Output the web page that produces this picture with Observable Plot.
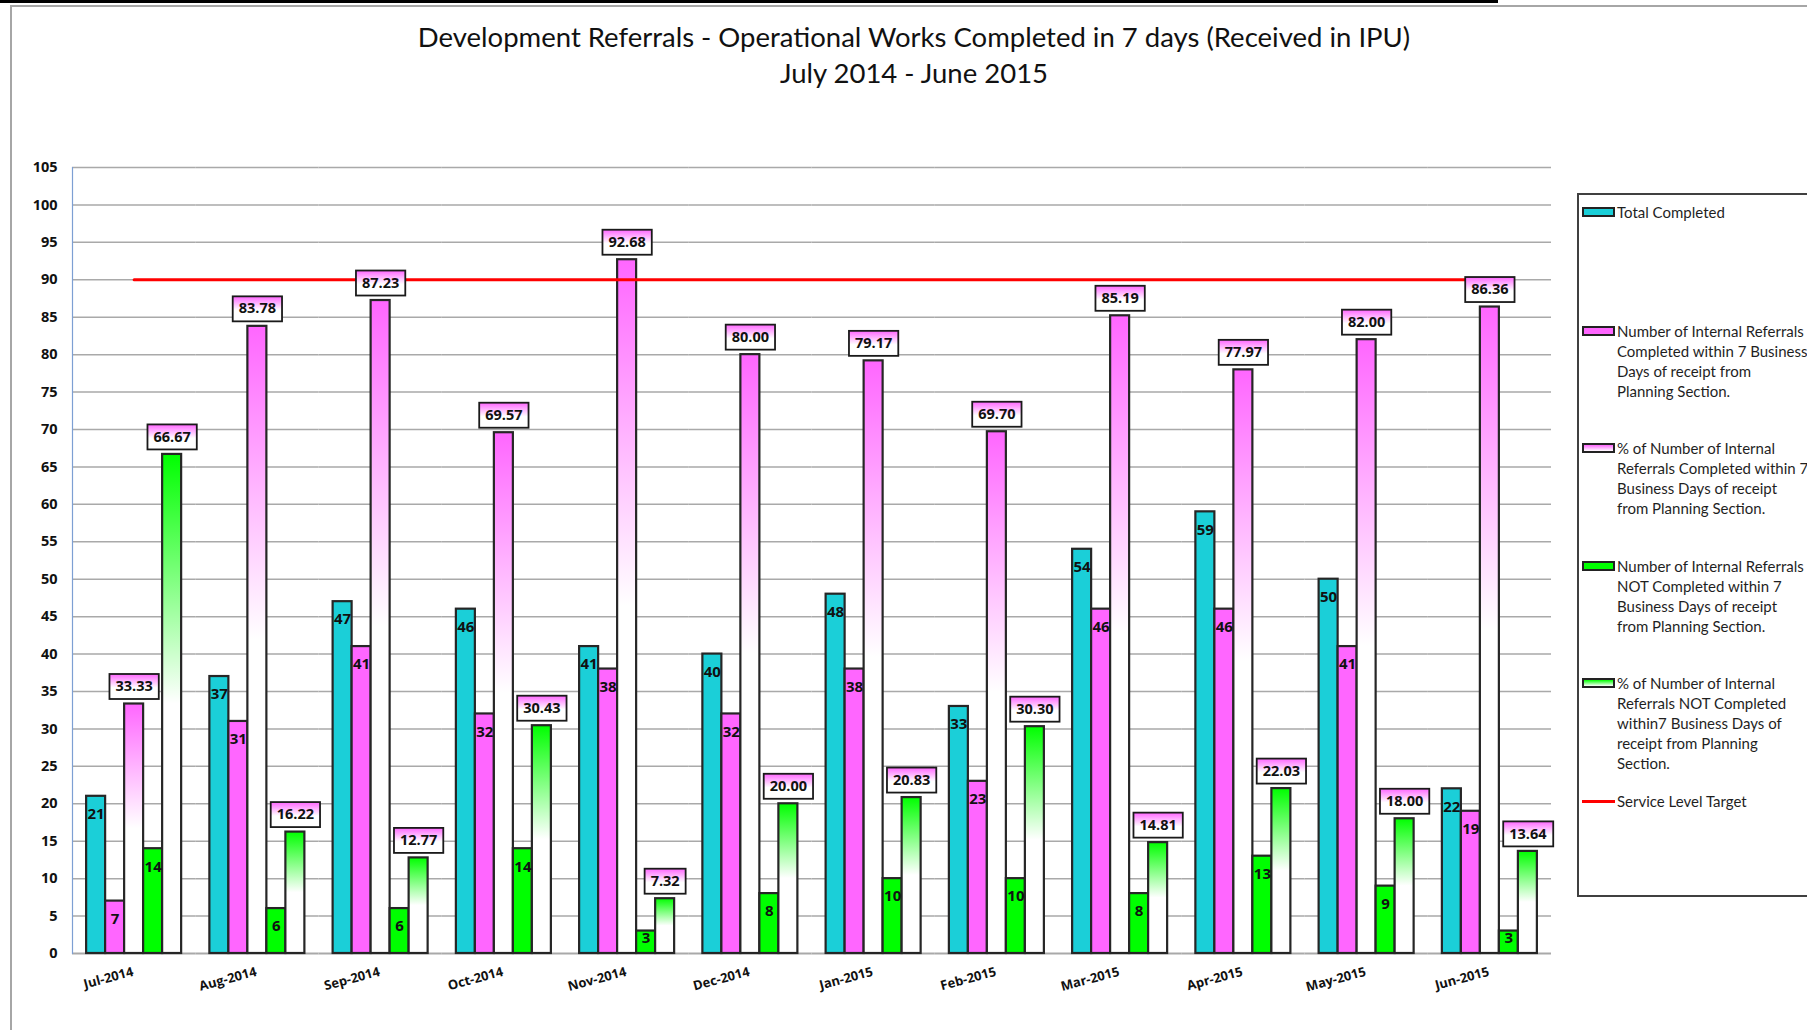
<!DOCTYPE html>
<html>
<head>
<meta charset="utf-8">
<script src="https://cdn.jsdelivr.net/npm/d3@7"></script>
<script src="https://cdn.jsdelivr.net/npm/@observablehq/plot@0.6"></script>
<style>
html, body { margin: 0; padding: 0; background: #fff; overflow: hidden; }
#root { position: relative; width: 1807px; height: 1030px; overflow: hidden; background: #fff; }
.layer { position: absolute; left: 0; top: 0; }
#topband { position: absolute; left: 0; top: 0; width: 1498px; height: 3px; background: #000; }
#border { position: absolute; left: 10px; top: 5px; width: 1820px; height: 1040px; border-left: 2px solid #a6a6a6; border-top: 2px solid #a6a6a6; }
#title { position: absolute; left: 214px; width: 1400px; top: 19px; text-align: center; font-family: Lato, sans-serif; font-size: 27.5px; line-height: 36px; color: #111; }
#legend { position: absolute; left: 1577px; top: 193px; width: 300px; height: 704px; border: 2px solid #404040; box-sizing: border-box; }
.lg-item { position: absolute; left: 0; font-family: Lato, sans-serif; font-size: 15px; line-height: 20px; color: #1f1f1f; white-space: nowrap; }
.lg-sw { position: absolute; width: 29px; height: 6px; border: 2px solid #222; }
.lg-line { position: absolute; width: 33px; height: 3px; background: #ff0000; }
.lg-text { position: absolute; }
</style>
</head>
<body>
<div id="root">
  <div id="topband"></div>
  <div id="border"></div>
  <div id="title"></div>
  <div id="chartA" class="layer"></div>
  <div id="chartB" class="layer"></div>
  <div id="chartC" class="layer"></div>
  <div id="legend"></div>
</div>
<script>
// ---------------- DATA ----------------
const titleLines = [
  "Development Referrals - Operational Works Completed in 7 days (Received in IPU)",
  "July 2014 - June 2015"
];
const months = ["Jul-2014","Aug-2014","Sep-2014","Oct-2014","Nov-2014","Dec-2014",
                "Jan-2015","Feb-2015","Mar-2015","Apr-2015","May-2015","Jun-2015"];
const totalCompleted   = [21, 37, 47, 46, 41, 40, 48, 33, 54, 59, 50, 22];
const completedWithin7 = [7, 31, 41, 32, 38, 32, 38, 23, 46, 46, 41, 19];
const pctCompleted     = [33.33, 83.78, 87.23, 69.57, 92.68, 80.00, 79.17, 69.70, 85.19, 77.97, 82.00, 86.36];
const notCompleted     = [14, 6, 6, 14, 3, 8, 10, 10, 8, 13, 9, 3];
const pctNotCompleted  = [66.67, 16.22, 12.77, 30.43, 7.32, 20.00, 20.83, 30.30, 14.81, 22.03, 18.00, 13.64];
const serviceTarget    = [90, 90, 90, 90, 90, 90, 90, 90, 90, 90, 90, 90];
const yTicks = [0,5,10,15,20,25,30,35,40,45,50,55,60,65,70,75,80,85,90,95,100,105];
const seriesKeys = ["total", "completed", "pctCompleted", "notCompleted", "pctNot"];
const legendLabels = [
  ["Total Completed"],
  ["Number of Internal Referrals", "Completed within 7 Business", "Days of receipt from", "Planning Section."],
  ["% of Number of Internal", "Referrals Completed within 7", "Business Days of receipt", "from Planning Section."],
  ["Number of Internal Referrals", "NOT Completed within 7", "Business Days of receipt", "from Planning Section."],
  ["% of Number of Internal", "Referrals NOT Completed", "within7 Business Days of", "receipt from Planning", "Section."],
  ["Service Level Target"]
];

// ---------------- STYLES ----------------
const CYAN = "#1BCFD8", PINK = "#FF66FF", GREEN = "#00FF00";
const seriesFill = [CYAN, PINK, "url(#gPink)", GREEN, "url(#gGreen)"];
const seriesValues = [totalCompleted, completedWithin7, pctCompleted, notCompleted, pctNotCompleted];
const isPct = [false, false, true, false, true];

const rows = months.flatMap((m, i) => seriesKeys.map((s, j) => ({month: m, series: s, value: seriesValues[j][i], pct: isPct[j]})));
const countRows = rows.filter(r => !r.pct);
const pctRows = rows.filter(r => r.pct);

const FONT = "'Open Sans', sans-serif";
const W = 1560, H = 1030;
const common = {
  width: W, height: H,
  marginLeft: 72, marginRight: 9, marginTop: 167, marginBottom: 77,
  y: {domain: [0, 105], axis: null, label: null},
  style: {background: "transparent", fontFamily: FONT, overflow: "visible"}
};
const facetScales = {
  fx: {domain: months, padding: 0, round: false, axis: null, label: null},
  x: {type: "band", domain: seriesKeys, padding: 0, paddingInner: 0, paddingOuter: 0.743, round: false, axis: null, label: null}
};

// title
document.getElementById("title").innerHTML = titleLines.map(t => `<div>${t}</div>`).join("");

// ---------------- LAYER A: grid, bars, axes ----------------
const svgA = Plot.plot({
  ...common, ...facetScales,
  marks: [
    Plot.ruleY(yTicks.filter(v => v > 0), {stroke: "#a9a9a9", strokeWidth: 1.5}),
    Plot.ruleY([0], {stroke: "#a9a9a9", strokeWidth: 2}),
    ...seriesKeys.map((s, j) => Plot.barY(rows.filter(r => r.series === s), {
      fx: "month", x: "series", y: "value", inset: 0,
      fill: seriesFill[j], stroke: "#262626", strokeWidth: 2.2
    })),
    Plot.text(months, {
      fx: d => d, text: d => d, frameAnchor: "bottom", dy: 22, rotate: -15,
      textAnchor: "end", fontSize: 13, fontWeight: 700, fill: "#111", fontFamily: FONT
    }),
    Plot.axisY(yTicks, {tickSize: 0, tickPadding: 15, label: null, fontSize: 14.5, fontWeight: 700, fill: "#111", fontFamily: FONT})
  ]
});
const NS = "http://www.w3.org/2000/svg";
const defs = document.createElementNS(NS, "defs");
defs.innerHTML = `
  <linearGradient id="gPink" x1="0" y1="0" x2="0" y2="1">
    <stop offset="0" stop-color="${PINK}"/><stop offset="0.5" stop-color="#ffffff"/><stop offset="1" stop-color="#ffffff"/>
  </linearGradient>
  <linearGradient id="gGreen" x1="0" y1="0" x2="0" y2="1">
    <stop offset="0" stop-color="${GREEN}"/><stop offset="0.5" stop-color="#ffffff"/><stop offset="1" stop-color="#ffffff"/>
  </linearGradient>
  <linearGradient id="gBox" x1="0" y1="0" x2="0" y2="1">
    <stop offset="0" stop-color="${PINK}"/><stop offset="0.55" stop-color="#ffffff"/><stop offset="1" stop-color="#ffffff"/>
  </linearGradient>`;
svgA.insertBefore(defs, svgA.firstChild);
document.getElementById("chartA").appendChild(svgA);

// ---------------- LAYER B: axis line + target line ----------------
const svgB = Plot.plot({
  ...common,
  x: {type: "point", domain: months, padding: 0.5, round: false, axis: null, label: null},
  marks: [
    Plot.frame({anchor: "left", stroke: "#7d9fd3", strokeWidth: 1.2}),
    Plot.lineY(months.map((m, i) => ({month: m, value: serviceTarget[i]})), {
      x: "month", y: "value", stroke: "#ff0000", strokeWidth: 3
    })
  ]
});
document.getElementById("chartB").appendChild(svgB);

// ---------------- LAYER C: data labels ----------------
const svgC = Plot.plot({
  ...common, ...facetScales,
  marks: [
    Plot.text(countRows.filter(r => r.value >= 5), {
      fx: "month", x: "series", y: "value", text: r => String(r.value), dy: 18,
      fontSize: 15, fontWeight: 700, fill: "#111", fontFamily: FONT
    }),
    Plot.text(countRows.filter(r => r.value < 5), {
      fx: "month", x: "series", y: "value", text: r => String(r.value), dy: 7,
      fontSize: 15, fontWeight: 700, fill: "#111", fontFamily: FONT
    }),
    Plot.text(pctRows, {
      fx: "month", x: "series", y: "value", text: r => r.value.toFixed(2), dy: -17.5,
      fontSize: 14.5, fontWeight: 700, fill: "#111", fontFamily: FONT
    })
  ]
});
document.getElementById("chartC").appendChild(svgC);

// boxes behind percentage labels (sized from each label's own text box)
svgC.querySelectorAll("text").forEach(t => {
  if (!/\.\d\d$/.test(t.textContent)) return;
  const bb = t.getBBox();
  const yAttr = t.getAttribute("y");
  const ay = (yAttr && !/em$/.test(yAttr) && !isNaN(parseFloat(yAttr))) ? parseFloat(yAttr) : 0;
  const r = document.createElementNS(NS, "rect");
  r.setAttribute("x", bb.x - 6);
  r.setAttribute("y", ay - 12.5);
  r.setAttribute("width", bb.width + 12);
  r.setAttribute("height", 25);
  r.setAttribute("fill", "url(#gBox)");
  r.setAttribute("stroke", "#1a1a1a");
  r.setAttribute("stroke-width", 1.8);
  const tr = t.getAttribute("transform");
  if (tr) r.setAttribute("transform", tr);
  t.parentNode.insertBefore(r, t);
});

// ---------------- LEGEND ----------------
const legend = document.getElementById("legend");
const legendCenters = [212, 331, 448, 566, 683, 801]; // first-line centres (page px)
const legendTop = 193 + 2;
const swatchFill = [CYAN, PINK, "linear-gradient(#FF66FF, #ffffff)", GREEN, "linear-gradient(#00FF00, #ffffff)"];
legendLabels.forEach((lines, i) => {
  const cy = legendCenters[i] - legendTop;
  const item = document.createElement("div");
  item.className = "lg-item";
  if (i < 5) {
    const sw = document.createElement("div");
    sw.className = "lg-sw";
    sw.style.left = (1582 - 1579) + "px";
    sw.style.top = (cy - 5) + "px";
    sw.style.background = swatchFill[i];
    item.appendChild(sw);
  } else {
    const ln = document.createElement("div");
    ln.className = "lg-line";
    ln.style.left = (1582 - 1579) + "px";
    ln.style.top = (cy - 1.5) + "px";
    item.appendChild(ln);
  }
  const tx = document.createElement("div");
  tx.className = "lg-text";
  tx.style.left = (1617 - 1579) + "px";
  tx.style.top = (cy - 10) + "px";
  tx.innerHTML = lines.join("<br>");
  item.appendChild(tx);
  legend.appendChild(item);
});
</script>
</body>
</html>
